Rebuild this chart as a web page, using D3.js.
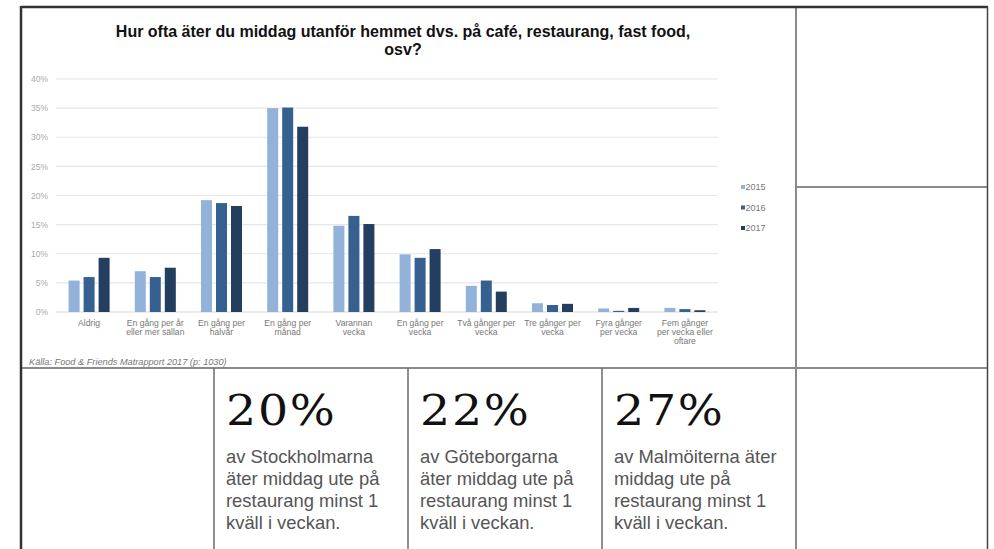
<!DOCTYPE html>
<html>
<head>
<meta charset="utf-8">
<script src="https://cdn.jsdelivr.net/npm/d3@7"></script>
<style>
  html, body { margin: 0; padding: 0; background: #fff; }
  svg { display: block; }
</style>
</head>
<body>
<svg id="page" width="994" height="549"></svg>
<script>
// Frequency of eating dinner out, share of respondents per survey year
const categories = [
  "Aldrig",
  "En gång per år\neller mer sällan",
  "En gång per\nhalvår",
  "En gång per\nmånad",
  "Varannan\nvecka",
  "En gång per\nvecka",
  "Två gånger per\nvecka",
  "Tre gånger per\nvecka",
  "Fyra gånger\nper vecka",
  "Fem gånger\nper vecka eller\noftare"
];
const years = ["2015", "2016", "2017"];
const values2015 = [5.4, 7.0, 19.2, 35.0, 14.8, 9.9, 4.5, 1.5, 0.6, 0.7];
const values2016 = [6.0, 6.0, 18.7, 35.1, 16.5, 9.3, 5.4, 1.2, 0.2, 0.5];
const values2017 = [9.3, 7.6, 18.2, 31.8, 15.1, 10.8, 3.5, 1.4, 0.7, 0.3];
const yTicks = [0, 5, 10, 15, 20, 25, 30, 35, 40];
const yearColors = ["#92b2da", "#36608f", "#233e5f"];

const titleLines = ["Hur ofta äter du middag utanför hemmet dvs. på café, restaurang, fast food,", "osv?"];
const sourceText = "Källa: Food & Friends Matrapport 2017  (p: 1030)";

const cityStats = [
  { pct: "20%", lines: ["av Stockholmarna", "äter middag ute på", "restaurang minst 1", "kväll i veckan."] },
  { pct: "22%", lines: ["av Göteborgarna", "äter middag ute på", "restaurang minst 1", "kväll i veckan."] },
  { pct: "27%", lines: ["av Malmöiterna äter", "middag ute på", "restaurang minst 1", "kväll i veckan."] }
];

const series = years.map((y, i) => ({ year: y, values: [values2015, values2016, values2017][i] }));

const svg = d3.select("#page");
const sans = "Liberation Sans, Arial, sans-serif";

// ---- page frame and cell grid ----
const frame = svg.append("g");
const gridColor = "#8a8a8a";
function line(x1, y1, x2, y2, color, w) {
  frame.append("line").attr("x1", x1).attr("y1", y1).attr("x2", x2).attr("y2", y2)
    .attr("stroke", color).attr("stroke-width", w);
}
line(796, 8, 796, 549, gridColor, 2);
line(796, 187, 988, 187, gridColor, 2);
line(21, 368, 988, 368, gridColor, 2);
[214, 408, 602].forEach(x => line(x, 368, x, 549, "#6a6a6a", 1.5));
line(21, 7, 988, 7, "#333", 2.5);
line(21, 6, 21, 549, "#333", 2.5);
line(987.5, 7, 987.5, 549, "#444", 1.5);

// ---- chart ----
const chart = svg.append("g");
const x0 = d3.scaleBand().domain(d3.range(categories.length)).range([56, 718]).padding(0);
const x1 = d3.scaleBand().domain(years).range([12.6, 53.6]).paddingInner(4 / 15);
const y = d3.scaleLinear().domain([0, 40]).range([312, 79]);

// title
chart.append("text")
  .attr("x", 403).attr("y", 37)
  .attr("text-anchor", "middle")
  .attr("font-family", sans)
  .attr("font-weight", "bold").attr("font-size", 16).attr("fill", "#111")
  .selectAll("tspan").data(titleLines).join("tspan")
  .attr("x", 403).attr("dy", (d, i) => i === 0 ? 0 : 18)
  .text(d => d);

// gridlines
chart.append("g").selectAll("line").data(yTicks).join("line")
  .attr("x1", 56).attr("x2", 718)
  .attr("y1", d => y(d)).attr("y2", d => y(d))
  .attr("stroke", d => d === 0 ? "#d8d8d8" : "#e6e6e6").attr("stroke-width", 1.2);

// y axis labels
const yAxis = d3.axisLeft(y).tickValues(yTicks).tickSize(0).tickPadding(0).tickFormat(d => d + "%");
const yAxisG = chart.append("g").attr("transform", "translate(48,0)").call(yAxis);
yAxisG.select(".domain").remove();
yAxisG.selectAll("text")
  .attr("font-family", sans)
  .attr("font-size", 8.5).attr("fill", "#aaa");

// bars
const groups = chart.append("g").selectAll("g").data(categories.map((c, i) => i)).join("g")
  .attr("transform", i => `translate(${x0(i)},0)`);
groups.selectAll("rect")
  .data(i => series.map((s, k) => ({ year: s.year, v: s.values[i], k })))
  .join("rect")
  .attr("x", d => x1(d.year))
  .attr("width", x1.bandwidth())
  .attr("y", d => y(d.v))
  .attr("height", d => y(0) - y(d.v))
  .attr("fill", d => yearColors[d.k]);

// category labels
const xLabels = chart.append("g").selectAll("text").data(categories).join("text")
  .attr("font-family", sans)
  .attr("font-size", 8.6).attr("fill", "#777")
  .attr("text-anchor", "middle")
  .attr("y", 326);
xLabels.selectAll("tspan").data((d, i) => d.split("\n").map(t => ({ t, i }))).join("tspan")
  .attr("x", d => x0(d.i) + x0.bandwidth() / 2)
  .attr("dy", (d, j) => j === 0 ? 0 : 9)
  .text(d => d.t);

// legend
const legend = chart.append("g").selectAll("g").data(years).join("g")
  .attr("transform", (d, i) => `translate(741,${187 + i * 20.5})`);
legend.append("rect").attr("x", 0).attr("y", -2).attr("width", 4).attr("height", 4)
  .attr("fill", (d, i) => yearColors[i]);
legend.append("text").attr("x", 4.5).attr("y", 3.2)
  .attr("font-family", sans)
  .attr("font-size", 9).attr("fill", "#777")
  .text(d => d);

// source note
chart.append("text")
  .attr("x", 29).attr("y", 365)
  .attr("font-family", sans)
  .attr("font-style", "italic").attr("font-size", 9.2).attr("fill", "#777")
  .text(sourceText);

// ---- city stat cards ----
const cardX = [226, 420, 614];
const cards = svg.append("g").selectAll("g").data(cityStats).join("g")
  .attr("transform", (d, i) => `translate(${cardX[i]},0)`);
cards.append("text")
  .attr("transform", "translate(0,425) scale(1.13,1)")
  .attr("font-family", "DejaVu Serif, serif")
  .attr("font-size", 42).attr("fill", "#111")
  .attr("letter-spacing", 1.5)
  .text(d => d.pct);
cards.append("text")
  .attr("font-family", sans)
  .attr("font-size", 18.4).attr("fill", "#555")
  .selectAll("tspan").data(d => d.lines).join("tspan")
  .attr("x", 0).attr("y", (d, i) => 463 + i * 22)
  .text(d => d);
</script>
</body>
</html>
